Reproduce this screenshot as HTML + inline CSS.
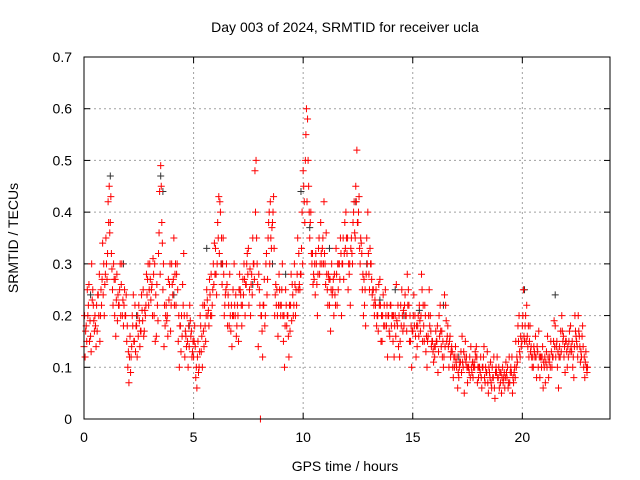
<!DOCTYPE html>
<html><head><meta charset="utf-8"><style>
html,body{margin:0;padding:0;background:#fff;}
svg{display:block;font-family:"Liberation Sans",sans-serif;}
</style></head><body>
<svg id="chart" width="640" height="480" viewBox="0 0 640 480"></svg>
<script>
const xTicks=[0,5,10,15,20];
const yTicks=[0,0.1,0.2,0.3,0.4,0.5,0.6,0.7];
const yTickLabels=["0","0.1","0.2","0.3","0.4","0.5","0.6","0.7"];
const startHour=0, stepHour=0.1;
const rA=[.14,.18,.22,.16,.25,.2,.17,.28,.22,.3,
.35,.42,.38,.25,.2,.28,.22,.26,.18,.2,
.1,.16,.2,.15,.18,.22,.17,.25,.2,.27,
.3,.26,.2,.16,.32,.49,.25,.18,.2,.26,
.3,.35,.22,.15,.18,.26,.12,.2,.14,.17,
.12,.08,.15,.2,.1,.22,.25,.18,.28,.3,
.33,.38,.42,.26,.2,.3,.22,.17,.25,.2,
.22,.28,.18,.3,.26,.33,.2,.35,.48,.3,
.25,.2,.22,.3,.35,.42,.38,.2,.25,.28,
.22,.15,.25,.2,.17,.26,.3,.22,.32,.28,
.48,.5,.58,.35,.3,.27,.3,.33,.38,.35,
.3,.25,.22,.3,.2,.33,.25,.35,.3,.38,
.32,.28,.35,.4,.45,.38,.3,.25,.22,.35,
.28,.3,.25,.22,.2,.27,.15,.22,.18,.2,
.22,.15,.2,.18,.12,.25,.18,.2,.25,.15,
.17,.2,.14,.22,.28,.18,.13,.16,.2,.15,
.12,.15,.2,.14,.1,.22,.18,.16,.13,.1,
.1,.08,.13,.1,.15,.07,.12,.09,.11,.14,
.08,.12,.1,.07,.13,.09,.06,.12,.1,.08,
.07,.1,.06,.08,.12,.09,.07,.15,.18,.12,
.18,.15,.22,.12,.14,.1,.16,.13,.08,.12,
.1,.13,.08,.15,.12,.18,.1,.14,.2,.12,
.15,.12,.18,.1,.2,.14,.16,.12,.1,.13];
const rB=[.12,.25,.15,.3,.19,.14,.24,.2,.34,.26,
.27,.45,.32,.3,.16,.24,.3,.2,.25,.15,
.07,.12,.24,.13,.2,.14,.21,.17,.28,.22,
.23,.31,.15,.22,.44,.38,.14,.22,.27,.17,
.24,.28,.3,.1,.2,.32,.16,.1,.19,.13,
.18,.06,.1,.13,.17,.15,.2,.24,.22,.34,
.24,.43,.3,.35,.24,.18,.28,.14,.3,.16,
.15,.24,.27,.2,.32,.25,.28,.3,.5,.14,
0,.12,.18,.24,.4,.33,.43,.26,.16,.22,
.3,.1,.18,.12,.28,.2,.2,.35,.25,.4,
.42,.6,.45,.4,.26,.24,.2,.28,.3,.42,
.36,.28,.17,.25,.24,.22,.3,.2,.27,.4,
.25,.22,.3,.36,.52,.43,.34,.2,.18,.4,
.33,.24,.2,.18,.26,.15,.24,.25,.12,.16,
.2,.12,.26,.14,.22,.17,.24,.28,.15,.1,
.24,.12,.2,.17,.15,.22,.1,.25,.14,.11,
.17,.09,.22,.12,.24,.15,.1,.13,.08,.14,
.06,.11,.16,.05,.12,.1,.14,.08,.13,.07,
.1,.06,.14,.09,.05,.11,.08,.04,.12,.06,
.05,.08,.11,.06,.09,.05,.1,.12,.2,.14,
.25,.2,.14,.18,.1,.13,.08,.17,.12,.06,
.07,.16,.12,.1,.19,.14,.06,.17,.15,.09,
.1,.17,.13,.08,.16,.2,.11,.18,.08,.09];
const rC=[.2,.15,.26,.13,.22,.18,.24,.15,.27,.2,
.3,.38,.43,.22,.27,.19,.25,.3,.22,.24,
.13,.09,.18,.22,.12,.19,.24,.16,.22,.3,
.27,.2,.3,.26,.36,.45,.3,.2,.16,.3,
.26,.22,.28,.2,.13,.22,.17,.15,.22,.12,
.15,.1,.09,.18,.22,.18,.23,.27,.2,.26,
.28,.35,.4,.3,.22,.26,.18,.22,.2,.24,
.2,.25,.22,.27,.3,.22,.26,.3,.4,.26,
.22,.17,.27,.32,.38,.35,.4,.24,.2,.25,
.25,.2,.22,.16,.22,.24,.26,.28,.26,.33,
.45,.55,.5,.38,.32,.3,.26,.35,.32,.3,
.26,.22,.27,.24,.28,.28,.3,.32,.35,.33,
.35,.3,.32,.42,.42,.4,.35,.28,.25,.3,
.25,.27,.22,.25,.17,.22,.2,.18,.22,.17,
.18,.2,.16,.22,.15,.2,.22,.17,.22,.18,
.2,.16,.18,.19,.25,.15,.16,.2,.17,.13,
.14,.18,.16,.17,.12,.19,.14,.12,.1,.12,
.12,.1,.09,.13,.11,.1,.08,.11,.1,.12,
.1,.08,.12,.1,.07,.08,.1,.06,.09,.1,
.09,.07,.08,.1,.07,.12,.09,.1,.15,.16,
.2,.18,.16,.15,.12,.14,.12,.1,.12,.14,
.12,.1,.11,.13,.15,.12,.13,.12,.17,.14,
.13,.15,.14,.12,.17,.12,.14,.16,.12,.1];
const rD=[.17,.2,.19,.23,.17,.22,.2,.25,.24,.28,
.32,.36,.29,.27,.23,.22,.2,.23,.2,.18,
.12,.14,.15,.18,.16,.17,.19,.21,.24,.25,
.25,.28,.24,.19,.28,.34,.22,.19,.23,.22,
.27,.3,.25,.18,.16,.2,.14,.18,.16,.15,
.14,.12,.13,.16,.14,.2,.21,.2,.25,.28,
.3,.32,.35,.28,.25,.24,.2,.2,.22,.18,
.25,.22,.24,.26,.28,.29,.24,.27,.35,.28,
.2,.22,.2,.27,.3,.37,.33,.22,.22,.2,
.2,.18,.2,.22,.19,.22,.25,.25,.28,.3,
.38,.42,.4,.32,.28,.32,.28,.3,.33,.32,
.28,.27,.25,.27,.22,.3,.27,.3,.32,.35,
.3,.33,.38,.35,.38,.33,.32,.27,.28,.32,
.3,.25,.23,.2,.22,.2,.18,.2,.2,.22,
.2,.18,.19,.2,.18,.21,.2,.22,.2,.17,
.18,.18,.16,.2,.22,.2,.15,.18,.15,.14,
.15,.13,.17,.15,.14,.16,.15,.14,.12,.11,
.09,.11,.11,.12,.1,.09,.1,.1,.12,.1,
.09,.1,.08,.09,.1,.07,.08,.09,.08,.09,
.08,.09,.09,.07,.1,.08,.08,.11,.13,.15,
.16,.15,.18,.13,.12,.12,.14,.12,.1,.11,
.11,.12,.1,.12,.14,.15,.12,.13,.16,.15,
.14,.13,.15,.14,.15,.17,.13,.14,.11,.1];
const blackT=[0.3,1.2,1.8,3.5,3.6,4.1,5.6,6.3,7.7,8.6,9.9,10.3,11.2,12.4,13.5,14.2,15.3,16.4,20.1,21.5,2.4,4.8,9.2,12.9,14.6,17.1];
const blackV=[0.24,0.47,0.3,0.47,0.44,0.24,0.33,0.3,0.26,0.3,0.44,0.37,0.33,0.42,0.23,0.25,0.21,0.22,0.25,0.24,0.2,0.18,0.28,0.3,0.2,0.12];

const L=84,R=610,T=57,B=419;
const xS=v=>L+v/24*(R-L);
const yS=v=>B-v/0.7*(B-T);
const svg=document.getElementById('chart');
const NS='http://www.w3.org/2000/svg';
function mk(tag,attrs,parent){const e=document.createElementNS(NS,tag);for(const k in attrs)e.setAttribute(k,attrs[k]);(parent||svg).appendChild(e);return e;}

const grid=mk('g',{});


xTicks.forEach(v=>{if(v>0)mk('line',{x1:xS(v),x2:xS(v),y1:T,y2:B,stroke:'#a0a0a0','stroke-dasharray':'2,3','stroke-width':1},grid);});
yTicks.forEach(v=>{if(v>0&&v<0.7)mk('line',{x1:L,x2:R,y1:yS(v),y2:yS(v),stroke:'#a0a0a0','stroke-dasharray':'2,3','stroke-width':1},grid);});

const ax=mk('g',{'font-size':'14',fill:'#000'});


xTicks.forEach(v=>{
  mk('line',{x1:xS(v),x2:xS(v),y1:B,y2:B-6,stroke:'#000'},ax);
  mk('line',{x1:xS(v),x2:xS(v),y1:T,y2:T+6,stroke:'#000'},ax);
  const t=mk('text',{x:xS(v),y:B+23,'text-anchor':'middle'},ax);t.textContent=v;
  
  
});
yTicks.forEach((v,i)=>{
  mk('line',{x1:L,x2:L+6,y1:yS(v),y2:yS(v),stroke:'#000'},ax);
  mk('line',{x1:R,x2:R-6,y1:yS(v),y2:yS(v),stroke:'#000'},ax);
  const t=mk('text',{x:L-12,y:yS(v)+5,'text-anchor':'end'},ax);t.textContent=yTickLabels[i];
  
  
});

function plus(g,x,y,c){mk('path',{d:`M${x-3.5},${y}H${x+3.5}M${x},${y-3.5}V${y+3.5}`,stroke:c,'stroke-width':1,fill:'none'},g);}
const gb=mk('g',{});


blackT.forEach((t,i)=>plus(gb,xS(t),yS(blackV[i]),'#333'));
const gr=mk('g',{});


rA.forEach((v,i)=>plus(gr,xS(startHour+i*stepHour),yS(v),'#ff0000'));
rC.forEach((v,i)=>plus(gr,xS(startHour+i*stepHour+0.025),yS(v),'#ff0000'));
rB.forEach((v,i)=>plus(gr,xS(startHour+i*stepHour+0.05),yS(v),'#ff0000'));
rD.forEach((v,i)=>plus(gr,xS(startHour+i*stepHour+0.075),yS(v),'#ff0000'));

const border=mk('rect',{x:L,y:T,width:R-L,height:B-T,fill:'none',stroke:'#000','stroke-width':1});



const title=mk('text',{x:345,y:32,'text-anchor':'middle','font-size':'14'});
title.textContent='Day 003 of 2024, SRMTID for receiver ucla';


const xl=mk('text',{x:345,y:471,'text-anchor':'middle','font-size':'14'});
xl.textContent='GPS time / hours';


const yl=mk('text',{x:0,y:0,'text-anchor':'middle','font-size':'14',transform:'translate(18,238) rotate(-90)'});
yl.textContent='SRMTID / TECUs';


</script>
</body></html>
